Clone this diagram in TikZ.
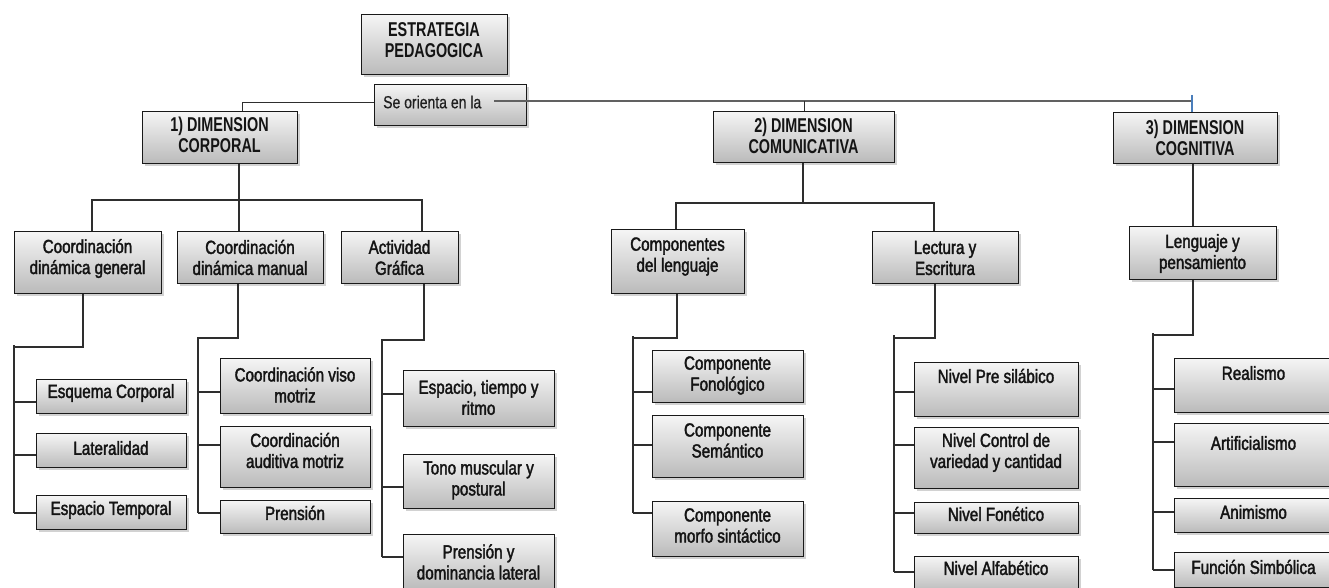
\documentclass[tikz,border=0pt]{standalone}
\usepackage{fontspec}
\setmainfont{Liberation Sans}[FakeStretch=0.80,FakeBold=1.9]
\newfontfamily\capsfont{Liberation Sans}[FakeStretch=0.72]
\newfontfamily\thinfont{Liberation Sans}[FakeStretch=0.8,FakeBold=0.6]
\usetikzlibrary{shadows}
\definecolor{tickblue}{RGB}{74,126,187}
\tikzset{
 box/.style={draw=black!90, line width=1.3pt, top color=black!4, bottom color=black!27, anchor=north west, inner sep=0pt,
   drop shadow={shadow xshift=2pt, shadow yshift=-2.5pt, opacity=0.35}},
 txt/.style={align=center, inner sep=0pt, text=black!92, font=\fontsize{19}{21}\selectfont},
 captxt/.style={align=center, inner sep=0pt, text=black!92, font=\capsfont\bfseries\fontsize{20}{20.5}\selectfont},
 thintxt/.style={inner sep=0pt, text=black!88, font=\thinfont\fontsize{17.5}{20}\selectfont},
 conn/.style={line width=1.2pt, draw=black!82},
 graylink/.style={line width=1.3pt, draw=black!62},
 bluetick/.style={line width=1.2pt, draw=tickblue}
}
\newcommand\mybox[8][txt]{%
  \node[box, minimum width={#5-#3}, minimum height={#6-#4}] (#2) at (#3,#4) {};
  \node[#1] (#2t) at ({(#3+#5)/2},#7) {#8};}
\newcommand\branch[4]{\coordinate (#1) at (#2,#3); \draw[conn] (#1) -- (#1 -| #4.west);}
\begin{document}
\begin{tikzpicture}[x=1pt,y=-1pt]
\clip (0,0) rectangle (1329,588);
\fill[white] (0,0) rectangle (1329,588);

% top
\mybox[captxt]{est}{361}{14}{507}{74}{40}{ESTRATEGIA\\PEDAGOGICA}
\node[box, minimum width=152, minimum height=41] (seo) at (374,84) {};
\node[thintxt, anchor=west] (seot) at (383,102) {Se orienta en la};
\mybox[captxt]{d1}{142}{111}{297}{163}{135}{1) DIMENSION\\CORPORAL}
\mybox[captxt]{d2}{713}{111}{894}{162}{136}{2) DIMENSION\\COMUNICATIVA}
\mybox[captxt]{d3}{1113}{112}{1277}{163}{138}{3) DIMENSION\\COGNITIVA}

% level 2
\mybox{cg}{14}{231}{161}{293}{258.5}{Coordinación\\dinámica general}
\mybox{cm}{177}{231}{323}{283}{257.5}{Coordinación\\dinámica manual}
\mybox{ag}{341}{231}{458}{283}{257.5}{Actividad\\Gráfica}
\mybox{cl}{611}{229}{744}{293}{256.5}{Componentes\\del lenguaje}
\mybox{le}{872}{231}{1018}{283}{258}{Lectura y\\Escritura}
\mybox{lp}{1129}{226}{1276}{279}{253.5}{Lenguaje y\\pensamiento}

% level 3
\mybox{ec}{36}{379}{186}{413}{393}{Esquema Corporal}
\mybox{la}{36}{433}{186}{467}{448}{Lateralidad}
\mybox{et}{36}{495}{186}{529}{510}{Espacio Temporal}

\mybox{cv}{220}{358}{370}{413}{385}{Coordinación viso\\motriz}
\mybox{ca}{220}{426}{370}{487}{450.5}{Coordinación\\auditiva motriz}
\mybox{pr}{220}{500}{370}{533}{513}{Prensión}

\mybox{es}{403}{370}{554}{426}{397.5}{Espacio, tiempo y\\ritmo}
\mybox{tm}{403}{454}{554}{508}{480}{Tono muscular y\\postural}
\mybox{pd}{403}{534}{554}{590}{562}{Prensión y\\dominancia lateral}

\mybox{cf}{652}{350}{803}{402}{375.5}{Componente\\Fonológico}
\mybox{cs}{652}{415}{803}{477}{440.5}{Componente\\Semántico}
\mybox{cms}{652}{501}{803}{556}{525.5}{Componente\\morfo sintáctico}

\mybox{np}{914}{362}{1078}{416}{376}{Nivel Pre silábico}
\mybox{nc}{914}{427}{1078}{488}{452.5}{Nivel Control de\\variedad y cantidad}
\mybox{nf}{914}{502}{1078}{533}{514}{Nivel Fonético}
\mybox{na}{914}{556}{1078}{592}{568}{Nivel Alfabético}

\mybox{re}{1174}{358}{1333}{412}{373}{Realismo}
\mybox{ar}{1174}{423}{1333}{486}{443}{Artificialismo}
\mybox{an}{1174}{498}{1333}{532}{512}{Animismo}
\mybox{fs}{1174}{552}{1333}{587}{567}{Función Simbólica}

% top connectors
\coordinate (sostart) at (494,101);
\coordinate (t3) at (1192,95);
\draw[graylink] (sostart) -- (t3 |- sostart);
\draw[bluetick] (t3) -- (t3 |- d3.north);
\draw[conn] (d2.north) -- (d2.north |- sostart);
\draw[conn] ([yshift=2.5pt]seo.west) -| ([xshift=22.5pt]d1.north);

% dimension 1 children
\coordinate (j1) at (239,200);
\coordinate (b1l) at (92,200);
\coordinate (b1r) at (422,200);
\draw[conn] (j1 |- d1.south) -- (j1) -- (j1 |- cm.north);
\draw[conn] (b1l |- cg.north) -- (b1l) -- (b1r) -- (b1r |- ag.north);

% dimension 2 children
\coordinate (j2) at (803,203);
\coordinate (b2l) at (676,203);
\coordinate (b2r) at (934,203);
\draw[conn] (j2 |- d2.south) -- (j2);
\draw[conn] (b2l |- cl.north) -- (b2l) -- (b2r) -- (b2r |- le.north);

% dimension 3 child
\coordinate (j3) at (1193,200);
\draw[conn] (j3 |- d3.south) -- (j3 |- lp.north);

% column 1
\coordinate (f1) at (83,347); \coordinate (s1) at (14,345); \coordinate (s1b) at (14,513);
\draw[conn] (f1 |- cg.south) -- (f1) -- (f1 -| s1);
\draw[conn] (s1) -- (s1b);
\branch{k11}{14}{402}{ec}
\branch{k12}{14}{455}{la}
\branch{k13}{14}{513}{et}

% column 2
\coordinate (f2) at (238,338); \coordinate (s2) at (198,337); \coordinate (s2b) at (198,513);
\draw[conn] (f2 |- cm.south) -- (f2) -- (f2 -| s2);
\draw[conn] (s2) -- (s2b);
\branch{k21}{198}{392}{cv}
\branch{k22}{198}{445}{ca}
\branch{k23}{198}{513}{pr}

% column 3
\coordinate (f3) at (424,340); \coordinate (s3) at (382,339); \coordinate (s3b) at (382,557);
\draw[conn] (f3 |- ag.south) -- (f3) -- (f3 -| s3);
\draw[conn] (s3) -- (s3b);
\branch{k31}{382}{394}{es}
\branch{k32}{382}{487}{tm}
\branch{k33}{382}{557}{pd}

% column 4
\coordinate (f4) at (677,338); \coordinate (s4) at (633,336); \coordinate (s4b) at (633,513);
\draw[conn] (f4 |- cl.south) -- (f4) -- (f4 -| s4);
\draw[conn] (s4) -- (s4b);
\branch{k41}{633}{392}{cf}
\branch{k42}{633}{445}{cs}
\branch{k43}{633}{513}{cms}

% column 5
\coordinate (f5) at (935,338); \coordinate (s5) at (894,335); \coordinate (s5b) at (894,572);
\draw[conn] (f5 |- le.south) -- (f5) -- (f5 -| s5);
\draw[conn] (s5) -- (s5b);
\branch{k51}{894}{392}{np}
\branch{k52}{894}{445}{nc}
\branch{k53}{894}{513}{nf}
\branch{k54}{894}{572}{na}

% column 6
\coordinate (f6) at (1193,335); \coordinate (s6) at (1153,333); \coordinate (s6b) at (1153,570);
\draw[conn] (f6 |- lp.south) -- (f6) -- (f6 -| s6);
\draw[conn] (s6) -- (s6b);
\branch{k61}{1153}{389}{re}
\branch{k62}{1153}{442}{ar}
\branch{k63}{1153}{512}{an}
\branch{k64}{1153}{570}{fs}
\end{tikzpicture}
\end{document}
